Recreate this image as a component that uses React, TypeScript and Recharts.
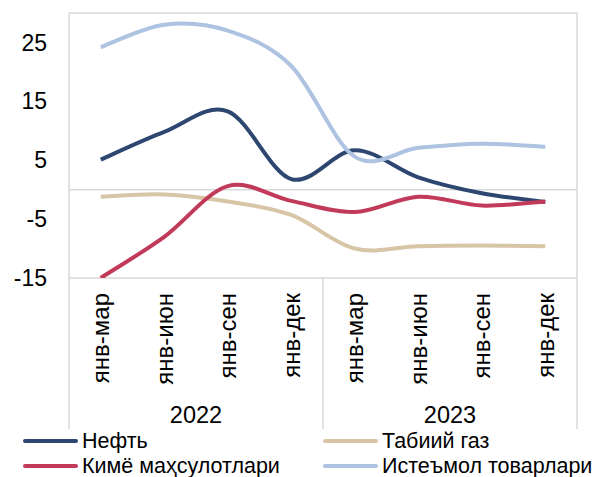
import React from 'react';
import { LineChart, Line, XAxis, YAxis, CartesianGrid, ReferenceLine } from 'recharts';

const categories = ['янв-мар', 'янв-июн', 'янв-сен', 'янв-дек', 'янв-мар', 'янв-июн', 'янв-сен', 'янв-дек'];
const years = ['2022', '2022', '2022', '2022', '2023', '2023', '2023', '2023'];
const neft = [5.1, 9.8, 13.3, 1.8, 6.7, 2.1, -0.6, -2.1];
const tabiiyGaz = [-1.2, -0.8, -2.0, -4.3, -10.0, -9.6, -9.5, -9.6];
const kimyo = [-15.0, -8.0, 0.6, -1.9, -3.8, -1.2, -2.7, -2.0];
const isteymol = [24.2, 28.0, 27.0, 21.0, 5.6, 7.1, 7.8, 7.3];
const yTicks = [25, 15, 5, -5, -15];
const yDomain = [-15, 30];

const series = [
  { key: 'neft', name: 'Нефть', color: '#2D4770', values: neft },
  { key: 'gaz', name: 'Табиий газ', color: '#D8C5A6', values: tabiiyGaz },
  { key: 'kimyo', name: 'Кимё маҳсулотлари', color: '#C23A5A', values: kimyo },
  { key: 'ist', name: 'Истеъмол товарлари', color: '#AEC3E1', values: isteymol },
];

const data = categories.map((c, i) => {
  const row: any = { cat: c + '|' + i, label: c, year: years[i] };
  series.forEach((s) => (row[s.key] = s.values[i]));
  return row;
});

const W = 595;
const H = 477;
const margin = { top: 13, right: 18, left: 0, bottom: 0 };
const Y_AXIS_W = 69;
const X_AXIS_H = H - 278;
const plotW = W - margin.left - margin.right - Y_AXIS_W;
const FONT = '"Liberation Sans", Arial, sans-serif';
const GRID = '#D9D9D9';

// Excel-like smoothing (Catmull-Rom based bezier)
function smoothCurve(context: any) {
  let pts: number[][] = [];
  return {
    areaStart() {},
    areaEnd() {},
    lineStart() { pts = []; },
    lineEnd() {
      const n = pts.length;
      if (!n) return;
      context.moveTo(pts[0][0], pts[0][1]);
      for (let i = 0; i < n - 1; i++) {
        const p0 = pts[i - 1] || pts[i];
        const p1 = pts[i];
        const p2 = pts[i + 1];
        const p3 = pts[i + 2] || pts[i + 1];
        const c1x = p1[0] + (p2[0] - p0[0]) / 6;
        const c1y = p1[1] + (p2[1] - p0[1]) / 6;
        const c2x = p2[0] - (p3[0] - p1[0]) / 6;
        const c2y = p2[1] - (p3[1] - p1[1]) / 6;
        context.bezierCurveTo(c1x, c1y, c2x, c2y, p2[0], p2[1]);
      }
    },
    point(x: number, y: number) { pts.push([+x, +y]); },
  };
}

const band = plotW / categories.length;

const CatTick = (props: any) => {
  const { x, y, index } = props;
  const i = index;
  const label = categories[i];
  const els: any[] = [];
  const left = x - band / 2;
  const right = x + band / 2;
  if (i === 0) els.push(<line key="l" x1={left} x2={left} y1={y} y2={y + 151} stroke={GRID} strokeWidth={1.5} />);
  if (i === categories.length - 1 || years[i + 1] !== years[i]) {
    els.push(<line key="r" x1={right} x2={right} y1={y} y2={y + 151} stroke={GRID} strokeWidth={1.5} />);
  }
  if (i === 0 || years[i - 1] !== years[i]) {
    const count = years.filter((yy) => yy === years[i]).length;
    const cx = left + (band * count) / 2;
    els.push(
      <text key="y" x={cx} y={y + 145} textAnchor="middle" fontSize={23.5} fontFamily={FONT} fill="#000">
        {years[i]}
      </text>
    );
  }
  const lx = x;
  const ly = y + 15;
  els.push(
    <text key="c" x={lx} y={ly} transform={`rotate(-90 ${lx} ${ly})`} textAnchor="end" dominantBaseline="central" fontSize={24} fontFamily={FONT} fill="#000">
      {label}
    </text>
  );
  return <g>{els}</g>;
};

export default function App() {
  const legendRows = [
    [series[0], series[1]],
    [series[2], series[3]],
  ];
  const colX = [23, 323];
  const rowTop = [430, 455];
  return (
    <div style={{ position: 'absolute', left: 0, top: 0, width: W, height: H, background: '#fff', overflow: 'hidden' }}>
      <LineChart width={W} height={H} data={data} margin={margin}>
        <CartesianGrid
          stroke={GRID}
          strokeWidth={1.5}
          horizontalCoordinatesGenerator={({ offset }: any) => [offset.top, offset.top + offset.height]}
          verticalCoordinatesGenerator={({ offset }: any) => [offset.left, offset.left + offset.width]}
        />
        <ReferenceLine y={0} stroke={GRID} strokeWidth={1.5} />
        <XAxis
          dataKey="cat"
          scale="band"
          interval={0}
          height={X_AXIS_H}
          axisLine={false}
          tickLine={false}
          tickSize={0}
          tickMargin={0}
          tick={<CatTick />}
        />
        <YAxis
          width={Y_AXIS_W}
          domain={yDomain}
          ticks={yTicks}
          axisLine={false}
          tickLine={false}
          tickSize={0}
          tickMargin={22}
          tick={{ fontSize: 23, fontFamily: FONT, fill: '#000' }}
          allowDataOverflow
        />
        {series.map((s) => (
          <Line
            key={s.key}
            dataKey={s.key}
            name={s.name}
            stroke={s.color}
            strokeWidth={4}
            dot={false}
            activeDot={false}
            type={smoothCurve as any}
            isAnimationActive={false}
          />
        ))}
      </LineChart>
      {legendRows.map((row, r) =>
        row.map((s, c) => (
          <div
            key={s.key}
            style={{
              position: 'absolute',
              left: colX[c],
              top: rowTop[r],
              height: 22,
              lineHeight: '22px',
              display: 'flex',
              alignItems: 'center',
              fontFamily: FONT,
              fontSize: 21.5,
              color: '#000',
              whiteSpace: 'nowrap',
            }}
          >
            <span style={{ display: 'inline-block', width: 55, height: 4, borderRadius: 2, background: s.color, marginRight: 4 }} />
            <span>{s.name}</span>
          </div>
        ))
      )}
    </div>
  );
}
